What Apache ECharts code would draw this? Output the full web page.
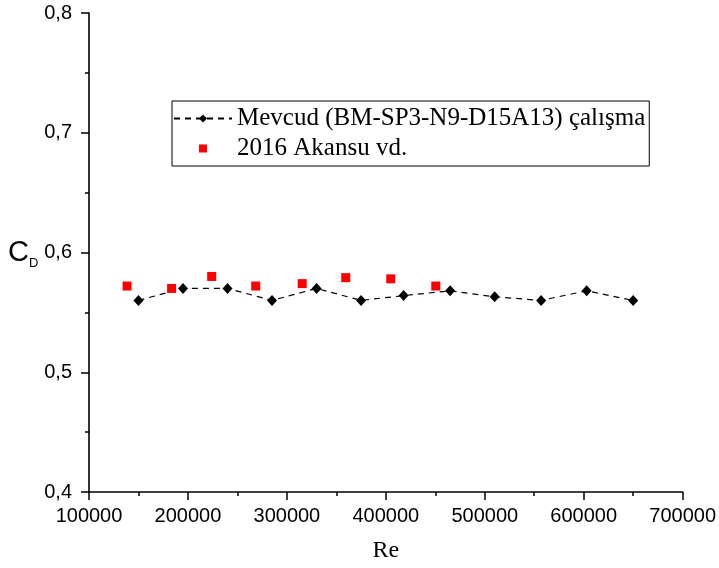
<!DOCTYPE html>
<html>
<head>
<meta charset="utf-8">
<script src="https://cdn.jsdelivr.net/npm/echarts@6/dist/echarts.min.js"></script>
<style>
  html, body { margin: 0; padding: 0; background: #ffffff; }
  #chart { width: 719px; height: 568px; }
</style>
</head>
<body>
<div id="chart"></div>
<script>
// Drag coefficient vs Reynolds number
const reMevcud = [150000, 195000, 240000, 285000, 330000, 375000, 418000, 465000, 510000, 557000, 603000, 650000];
const cdMevcud = [0.560, 0.570, 0.570, 0.560, 0.570, 0.560, 0.564, 0.568, 0.563, 0.560, 0.568, 0.560];

const reAkansu = [138500, 183500, 224000, 268500, 315500, 359500, 405000, 450500];
const cdAkansu = [0.572, 0.570, 0.580, 0.572, 0.574, 0.579, 0.578, 0.572];

const nameMevcud = 'Mevcud (BM-SP3-N9-D15A13) çalışma';
const nameAkansu = '2016 Akansu vd.';

const xTicks = { min: 100000, max: 700000, step: 100000 };
const yTicks = { min: 0.4, max: 0.8, step: 0.1 };

const sansFont = '"Liberation Sans", Arial, sans-serif';
const serifFont = '"Liberation Serif", "Times New Roman", serif';

const pairs = (xs, ys) => xs.map((x, i) => [x, ys[i]]);

const chart = echarts.init(document.getElementById('chart'), null, { renderer: 'canvas' });

const axisCommon = {
  axisLine: { show: true, onZero: false, lineStyle: { color: '#000', width: 1.6 } },
  axisTick: { show: true, inside: false, length: 8, lineStyle: { color: '#000', width: 1.5 } },
  minorTick: { show: true, splitNumber: 2, length: 4, lineStyle: { color: '#000', width: 1.5 } },
  splitLine: { show: false },
  minorSplitLine: { show: false }
};

chart.setOption({
  animation: false,
  backgroundColor: '#ffffff',
  grid: { left: 89, right: 34, top: 13, bottom: 76, containLabel: false },
  xAxis: Object.assign({}, axisCommon, {
    type: 'value',
    min: xTicks.min,
    max: xTicks.max,
    interval: xTicks.step,
    name: 'Re',
    nameLocation: 'middle',
    nameGap: 47,
    nameTextStyle: { fontFamily: serifFont, fontSize: 24, color: '#000' },
    axisLabel: {
      margin: 14,
      color: '#000',
      fontFamily: sansFont,
      fontSize: 20,
      formatter: v => String(v)
    }
  }),
  yAxis: Object.assign({}, axisCommon, {
    type: 'value',
    min: yTicks.min,
    max: yTicks.max,
    interval: yTicks.step,
    name: '{c|C}{d|D}',
    nameLocation: 'middle',
    nameRotate: 0,
    nameGap: 46,
    nameTextStyle: {
      color: '#000',
      rich: {
        c: { fontFamily: sansFont, fontSize: 29, lineHeight: 34, color: '#000' },
        d: { fontFamily: sansFont, fontSize: 13, lineHeight: 13, color: '#000', verticalAlign: 'bottom' }
      }
    },
    axisLabel: {
      margin: 17,
      color: '#000',
      fontFamily: sansFont,
      fontSize: 20,
      formatter: v => v.toFixed(1).replace('.', ',')
    }
  }),
  legend: {
    orient: 'vertical',
    left: 172,
    top: 101,
    padding: [5, 4, 5, 1],
    itemGap: 5,
    itemWidth: 58,
    itemHeight: 10,
    borderColor: '#000',
    borderWidth: 1,
    textStyle: { fontFamily: serifFont, fontSize: 25, lineHeight: 25, color: '#000' },
    data: [
      { name: nameMevcud },
      { name: nameAkansu, icon: 'path://M-29,-5L-29,-5M29,5L29,5M-4,-4L4,-4L4,4L-4,4Z' }
    ]
  },
  series: [
    {
      name: nameMevcud,
      type: 'line',
      data: pairs(reMevcud, cdMevcud),
      symbol: 'diamond',
      symbolSize: [10, 11],
      showSymbol: true,
      itemStyle: { color: '#000' },
      lineStyle: { color: '#000', width: 1.2, type: [6, 5] },
      z: 2
    },
    {
      name: nameAkansu,
      type: 'scatter',
      data: pairs(reAkansu, cdAkansu),
      symbol: 'rect',
      symbolSize: 9,
      itemStyle: { color: '#ff0000', opacity: 1 },
      z: 3
    }
  ]
});
</script>
</body>
</html>
